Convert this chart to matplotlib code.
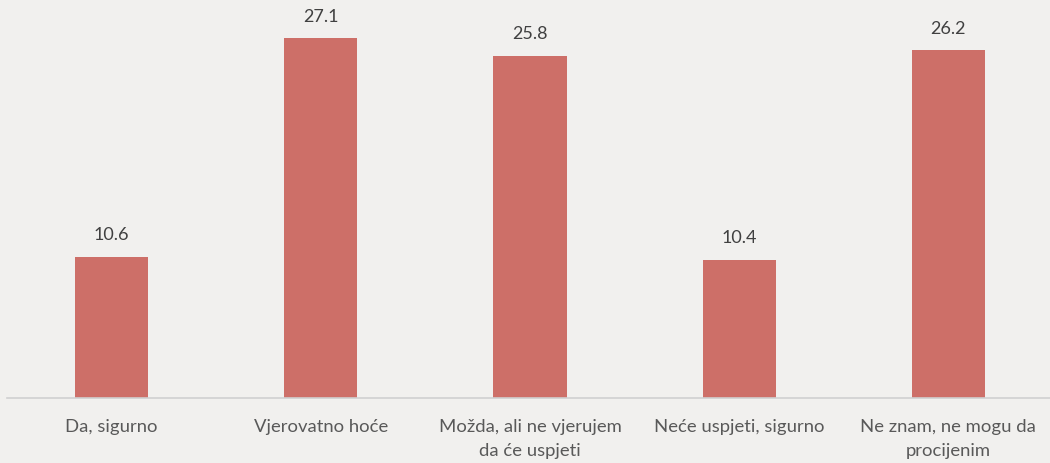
import matplotlib
matplotlib.use("Agg")
import matplotlib.pyplot as plt
import numpy as np

categories = ["Da, sigurno", "Vjerovatno hoće", "Možda, ali ne vjerujem\nda će uspjeti",
              "Neće uspjeti, sigurno", "Ne znam, ne mogu da\nprocijenim"]
values = [10.6, 27.1, 25.8, 10.4, 26.2]

plt.rcParams['font.family'] = ['Lato', 'DejaVu Sans']
bg = "#f1f0ee"
fig = plt.figure(figsize=(10.5, 4.63), dpi=100, facecolor=bg)
ax = fig.add_axes([7/1050, 65/463, 1046/1050, 398/463])
ax.set_facecolor(bg)
x = np.arange(len(categories))
bars = ax.bar(x, values, width=0.35, color="#cd6f68", zorder=2)
for xi, v in zip(x, values):
    ax.annotate(f"{v:.1f}", (xi, v), xytext=(0, 10), textcoords="offset points",
                ha="center", va="bottom", fontsize=13, color="#404040")
ax.set_xlim(-0.5, len(categories) - 0.5)
ax.set_ylim(0, 30)
ax.set_yticks([])
ax.set_xticks(x)
ax.set_xticklabels(categories, fontsize=13.3, color="#595959", linespacing=1.65)
ax.tick_params(axis="x", length=0, pad=15)
for s in ["top", "right", "left"]:
    ax.spines[s].set_visible(False)
ax.spines["bottom"].set_color("#d0d0d0")
ax.spines["bottom"].set_linewidth(1.2)
fig.savefig("out.png", dpi=100, facecolor=bg)
